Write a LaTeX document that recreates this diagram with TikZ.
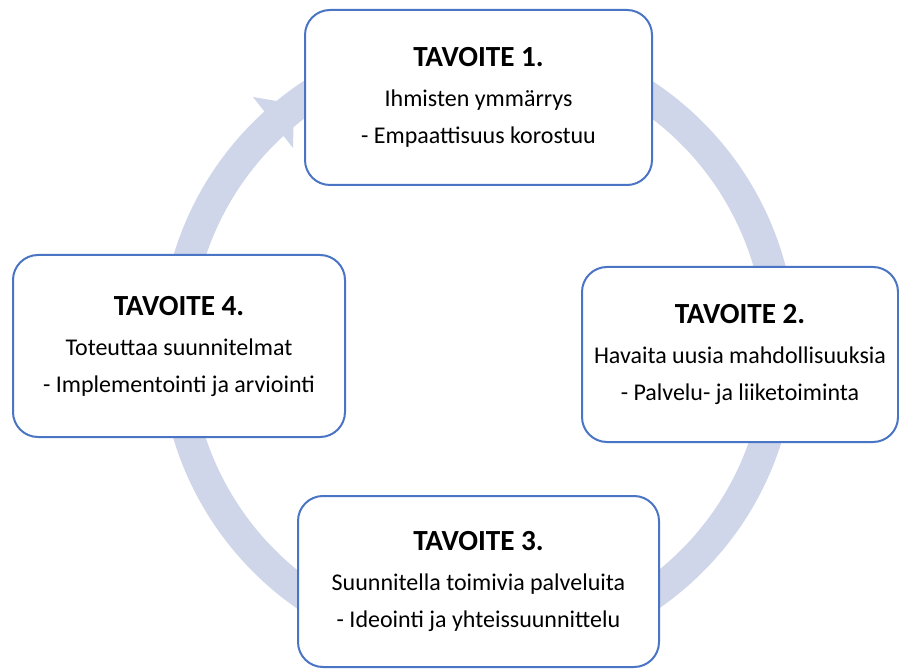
\documentclass[tikz,border=0pt]{standalone}
\usepackage{fontspec}
\setmainfont{Carlito}
\definecolor{boxline}{RGB}{74,116,196}
\definecolor{ringfill}{RGB}{207,214,234}
\begin{document}
\begin{tikzpicture}[x=0.5pt,y=0.5pt,
  goal/.style={draw=boxline, line width=1pt, fill=white, rounded corners=12.5pt,
    align=center, inner sep=0pt, font=\fontsize{12}{18.5}\selectfont}]
\useasboundingbox (0,0) rectangle (899,670);
\newcommand{\goaltitle}[1]{{\bfseries\fontsize{14.6}{17}\selectfont #1}\\[1.5pt]}

% circular arrow band behind the boxes
\coordinate (C) at (478,323);
\begin{scope}[shift={(C)}]
  \fill[ringfill] (132.8:318) arc[start angle=132.8, end angle=-290, radius=318]
    -- (-290:287) arc[start angle=-290, end angle=132.8, radius=287] -- cycle;
\end{scope}
% arrow head at the end of the band
\coordinate (headA) at (253,573);
\coordinate (headT) at (294,566);
\coordinate (headB) at (293,522);
\fill[ringfill] (headA) -- (headT) -- (headB) -- cycle;

% the four goals
\node[goal, minimum width=173.5pt, minimum height=87.5pt] (g1) at (478.5,572.5)
  {\goaltitle{TAVOITE 1.}Ihmisten ymmärrys\\- Empaattisuus korostuu};
\node[goal, minimum width=158pt, minimum height=87.5pt] (g2) at (740,315.5)
  {\goaltitle{TAVOITE 2.}Havaita uusia mahdollisuuksia\\- Palvelu- ja liiketoiminta};
\node[goal, minimum width=180.5pt, minimum height=85.5pt] (g3) at (478.5,88.5)
  {\goaltitle{TAVOITE 3.}Suunnitella toimivia palveluita\\- Ideointi ja yhteissuunnittelu};
\node[goal, minimum width=166pt, minimum height=91pt] (g4) at (179,324)
  {\goaltitle{TAVOITE 4.}Toteuttaa suunnitelmat\\- Implementointi ja arviointi};
\end{tikzpicture}
\end{document}
